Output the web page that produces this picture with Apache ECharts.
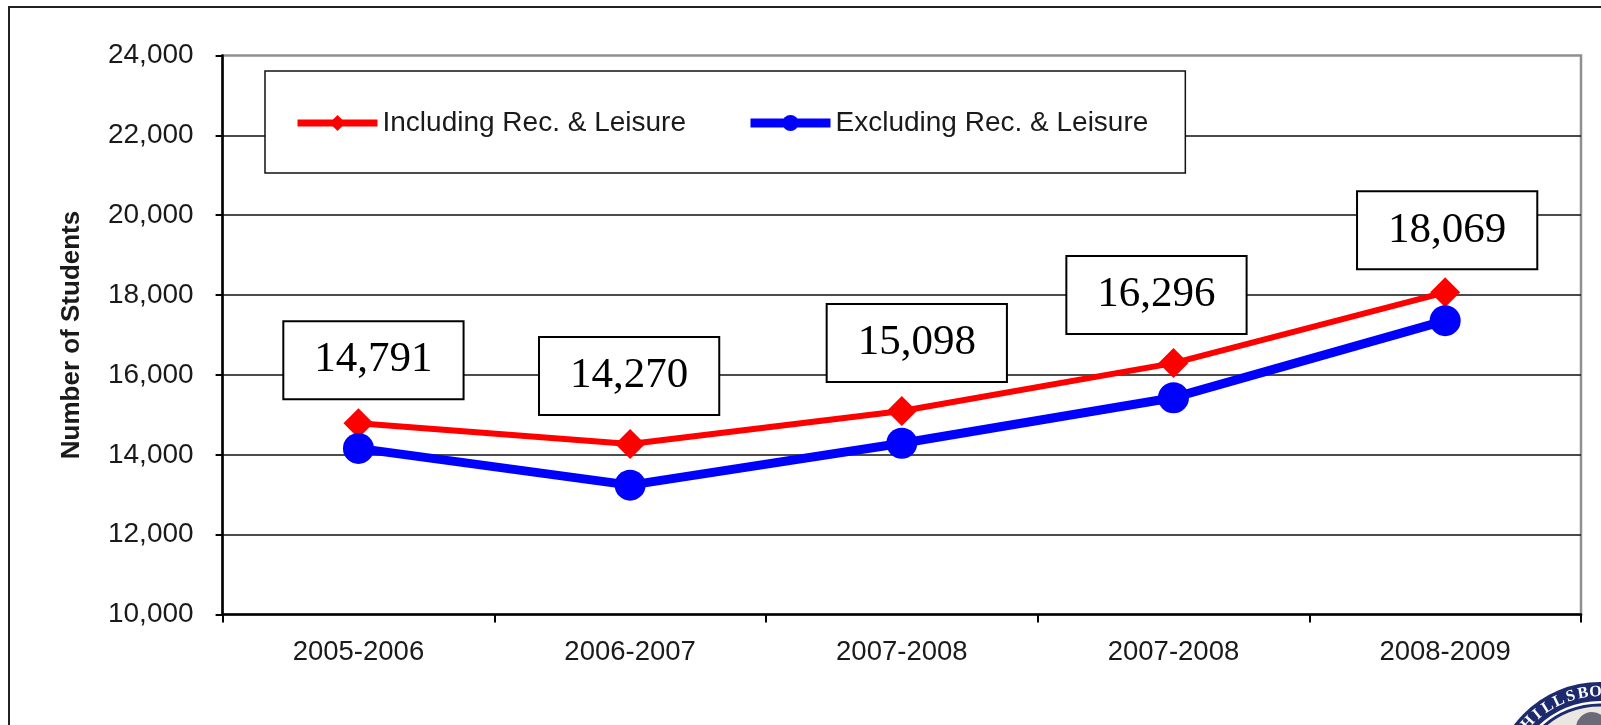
<!DOCTYPE html>
<html>
<head>
<meta charset="utf-8">
<title>Number of Students</title>
<script src="https://cdn.jsdelivr.net/npm/echarts@6/dist/echarts.min.js"></script>
<style>
	html, body { margin: 0; padding: 0; background: #fff; }
	#chart { width: 1601px; height: 725px; }
</style>
</head>
<body>
<div id="chart"></div>
<script>
	// data
	var seasons = ['2005-2006', '2006-2007', '2007-2008', '2007-2008', '2008-2009'];
	var inclList = [14791, 14270, 15098, 16296, 18069];
	var exclList = [14160, 13240, 14290, 15430, 17360];
	var yTicks = { min: 10000, max: 24000, step: 2000 };

	// the value boxes were placed by hand in the original, so nudge each one a bit
	var boxNudge = [[15, -63], [-1, -68], [15, -68], [-17, -68], [2, -62]];

	var sans = 'Liberation Sans, Arial, sans-serif';
	var serif = 'Liberation Serif, Times New Roman, serif';
	var ink = '#1a1a1a';

	function comma(v) {
		return Number(v).toLocaleString('en-US');
	}

	// seal in the bottom right corner (decoration only)
	var sealCx = 1600, sealCy = 790;
	var seal = [
		{ type: 'circle', shape: { cx: sealCx, cy: sealCy, r: 108 }, style: { fill: '#1d2b6e' } },
		{ type: 'circle', shape: { cx: sealCx, cy: sealCy, r: 89 }, style: { fill: '#fff' } },
		{ type: 'circle', shape: { cx: sealCx, cy: sealCy, r: 85 }, style: { fill: '#e9e7df', stroke: '#1d2b6e', lineWidth: 3 } },
		{ type: 'circle', shape: { cx: sealCx - 8, cy: sealCy - 62, r: 16 }, style: { fill: '#6a6a78' } }
	];
	var sealText = 'HILLSBOROUGH';
	for (var i = 0; i < sealText.length; i++) {
		var ang = (-47 + i * 7.4) * Math.PI / 180;
		seal.push({
			type: 'text',
			x: sealCx + 98 * Math.sin(ang),
			y: sealCy - 98 * Math.cos(ang),
			rotation: -ang,
			style: {
				text: sealText[i],
				fill: '#fff',
				font: 'bold 16px ' + serif,
				align: 'center',
				verticalAlign: 'middle'
			}
		});
	}

	var chart = echarts.init(document.getElementById('chart'));
	var option = {
		backgroundColor: '#fff',
		animation: false,
		graphic: [
			{
				type: 'rect',
				shape: { x: 9, y: 7, width: 1700, height: 800 },
				style: { fill: 'none', stroke: '#222', lineWidth: 2 },
				z: 0
			},
			{ type: 'group', children: seal, z: 1 }
		],
		legend: {
			left: 265,
			top: 71,
			padding: [38, 37, 36, 29],
			itemWidth: 80,
			itemHeight: 20,
			itemGap: 60,
			borderColor: '#111',
			borderWidth: 1.5,
			backgroundColor: '#fff',
			textStyle: {
				fontFamily: sans,
				fontSize: 28,
				color: ink
			},
			data: [{
				name: 'Including Rec. & Leisure',
				lineStyle: { width: 7 }
			}, {
				name: 'Excluding Rec. & Leisure',
				lineStyle: { width: 9 }
			}]
		},
		grid: {
			left: 222.6,
			right: 20,
			top: 55.5,
			bottom: 110.5,
			show: true,
			backgroundColor: '#fff',
			borderColor: '#8f8f8f',
			borderWidth: 2.5
		},
		xAxis: {
			type: 'category',
			data: seasons,
			boundaryGap: true,
			axisLine: {
				lineStyle: { color: '#000', width: 2.5 }
			},
			axisTick: {
				show: true,
				length: 8,
				lineStyle: { color: '#000', width: 2 }
			},
			axisLabel: {
				margin: 24,
				interval: 0,
				fontFamily: sans,
				fontSize: 27.5,
				color: ink
			}
		},
		yAxis: {
			type: 'value',
			min: yTicks.min,
			max: yTicks.max,
			interval: yTicks.step,
			name: 'Number of Students',
			nameLocation: 'middle',
			nameRotate: 90,
			nameGap: 138,
			nameTextStyle: {
				fontFamily: sans,
				fontSize: 26,
				fontWeight: 'bold',
				color: ink
			},
			axisLine: {
				show: true,
				lineStyle: { color: '#000', width: 2.5 }
			},
			axisTick: {
				show: true,
				length: 7,
				lineStyle: { color: '#000', width: 2 }
			},
			axisLabel: {
				margin: 29,
				fontFamily: sans,
				fontSize: 28,
				color: ink,
				formatter: comma
			},
			splitLine: {
				show: true,
				showMinLine: false,
				showMaxLine: false,
				lineStyle: { color: '#111', width: 1.5 }
			}
		},
		series: [{
			name: 'Including Rec. & Leisure',
			type: 'line',
			data: inclList.map(function(v, i) {
				return { value: v, label: { offset: boxNudge[i] } };
			}),
			symbol: 'diamond',
			symbolSize: 30,
			lineStyle: { color: '#ff0000', width: 6 },
			itemStyle: { color: '#ff0000' },
			label: {
				show: true,
				position: 'inside',
				formatter: function(p) {
					return comma(p.value);
				},
				fontFamily: serif,
				fontSize: 43,
				lineHeight: 44,
				color: '#000',
				backgroundColor: '#fff',
				borderColor: '#000',
				borderWidth: 2,
				padding: [17, 30, 15, 30]
			}
		}, {
			name: 'Excluding Rec. & Leisure',
			type: 'line',
			data: exclList,
			symbol: 'circle',
			symbolSize: 31,
			lineStyle: { color: '#0000ff', width: 9 },
			itemStyle: { color: '#0000ff' }
		}]
	};
	chart.setOption(option);
</script>
</body>
</html>
